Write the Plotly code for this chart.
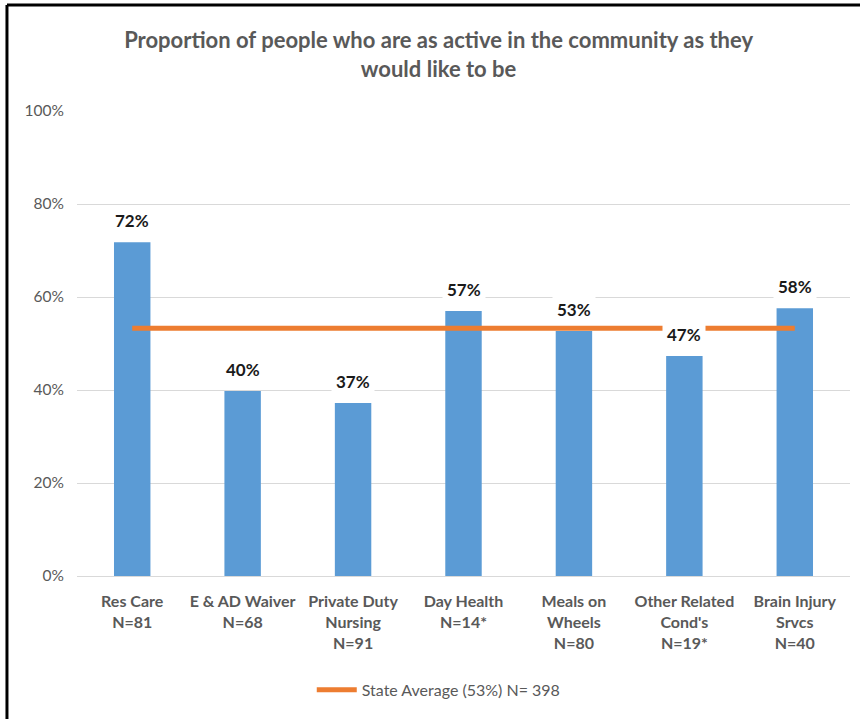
import plotly.graph_objects as go

# Program categories (two/three-line axis labels) and their results
categories = [
    "Res Care<br>N=81",
    "E & AD Waiver<br>N=68",
    "Private Duty<br>Nursing<br>N=91",
    "Day Health<br>N=14*",
    "Meals on<br>Wheels<br>N=80",
    "Other Related<br>Cond's<br>N=19*",
    "Brain Injury<br>Srvcs<br>N=40",
]
share_active = [0.718, 0.398, 0.372, 0.570, 0.527, 0.473, 0.576]
state_average = 0.533
state_label = "State Average (53%) N= 398"

y_ticks = [0, 0.2, 0.4, 0.6, 0.8, 1.0]

FONT = "Lato"
GREY = "#595959"
BLUE = "#5B9BD5"
ORANGE = "#ED7D31"

fig = go.Figure()

fig.add_trace(go.Bar(
    x=categories,
    y=share_active,
    width=0.33,
    marker=dict(color=BLUE, line=dict(width=0)),
    showlegend=False,
    hoverinfo="x+y",
))

fig.add_trace(go.Scatter(
    x=categories,
    y=[state_average] * len(categories),
    mode="lines",
    line=dict(color=ORANGE, width=5),
    name=state_label,
))

# Value labels with a white backing box above each bar
for cat, val in zip(categories, share_active):
    fig.add_annotation(
        x=cat, y=val,
        text=f"<b>{val:.0%}</b>",
        showarrow=False,
        yanchor="bottom",
        yshift=6,
        bgcolor="white",
        borderpad=4,
        font=dict(family=FONT, size=17, color="#1a1a1a"),
    )

# Frame lines along the left and top edges of the chart
fig.add_shape(type="line", xref="paper", yref="paper",
              x0=-0.0906, x1=-0.0906, y0=1.228, y1=-0.31,
              line=dict(color="black", width=3))
fig.add_shape(type="line", xref="paper", yref="paper",
              x0=-0.0906, x1=1.02, y0=1.228, y1=1.228,
              line=dict(color="black", width=3))

fig.update_layout(
    width=860, height=719,
    margin=dict(l=77, r=10, t=111, b=143),
    paper_bgcolor="white",
    plot_bgcolor="white",
    font=dict(family=FONT, color=GREY),
    title=dict(
        text="<b>Proportion of people who are as active in the community as they<br>would like to be</b>",
        x=0.51, xanchor="center",
        xref="container",
        y=1 - 48 / 719, yanchor="middle", yref="container",
        font=dict(family=FONT, size=22, color=GREY),
    ),
    legend=dict(
        orientation="h",
        x=0.468, xanchor="center",
        y=-0.245, yanchor="middle",
        font=dict(family=FONT, size=16, color=GREY),
        itemwidth=40,
    ),
    xaxis=dict(
        tickfont=dict(family=FONT, size=16, color=GREY),
        tickvals=categories,
        ticktext=[f"<b>{c}</b>" for c in categories],
        showgrid=False,
        showline=True, linecolor="#D9D9D9", linewidth=1,
        ticks="",
        ticklabelstandoff=11,
    ),
    yaxis=dict(
        range=[0, 1.0],
        tickvals=y_ticks,
        tickformat=".0%",
        tickfont=dict(family=FONT, size=15.5, color=GREY),
        showgrid=True, gridcolor="#D9D9D9", gridwidth=1,
        zeroline=False,
        ticks="",
        ticklabelstandoff=12,
    ),
)

fig.write_html("out.html")
